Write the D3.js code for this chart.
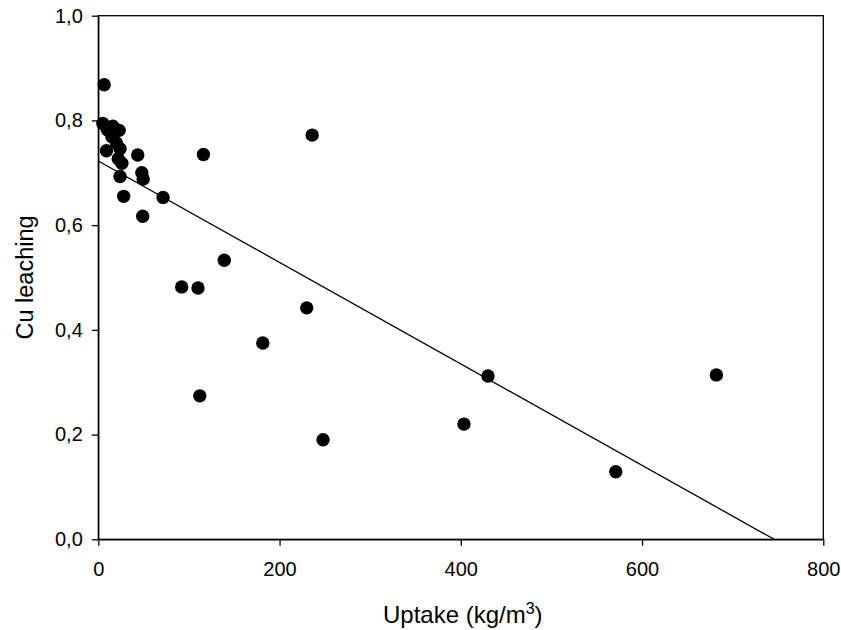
<!DOCTYPE html>
<html><head><meta charset="utf-8">
<script src="https://cdn.jsdelivr.net/npm/d3@7"></script>
<style>body{margin:0;background:#fff}svg{display:block}text{font-family:"Liberation Sans",Arial,sans-serif}</style>
</head><body>
<script>
const uptake = [6.5,5,10,16,23,15,20,9,24,22,26,24,28,43.5,48,49.5,49,71.5,116,236,92,110,139,112,181.5,230,248,403.5,430,571,682];
const cuLeaching = [0.868,0.794,0.782,0.789,0.781,0.769,0.757,0.742,0.746,0.727,0.718,0.693,0.655,0.734,0.700,0.688,0.617,0.653,0.735,0.772,0.482,0.480,0.533,0.274,0.375,0.442,0.190,0.220,0.312,0.129,0.314];
const xTicks = [0,200,400,600,800];
const yTicks = [0,0.2,0.4,0.6,0.8,1.0];
const fitIntercept = 0.7226;
const fitSlope = -0.000969;

const W=841,H=630;
const m={l:98.3,r:841-823.3,t:15.7,b:630-539.3};
const svg=d3.select("body").append("svg").attr("width",W).attr("height",H);
const x=d3.scaleLinear().domain([0,800]).range([m.l,W-m.r]);
const y=d3.scaleLinear().domain([0,1]).range([H-m.b,m.t]);
const fmt=d=>d3.format(".1f")(d).replace(".",",");

// frame
svg.append("rect").attr("x",x(0)).attr("y",y(1)).attr("width",x(800)-x(0)).attr("height",y(0)-y(1))
  .attr("fill","none").attr("stroke","#000").attr("stroke-width",1.3);

const gx=svg.append("g").attr("transform",`translate(0,${y(0)})`)
  .call(d3.axisBottom(x).tickValues(xTicks).tickSize(6.5).tickPadding(16).tickSizeOuter(0));
const gy=svg.append("g").attr("transform",`translate(${x(0)},0)`)
  .call(d3.axisLeft(y).tickValues(yTicks).tickFormat(fmt).tickSize(6.5).tickPadding(9).tickSizeOuter(0));
[gx,gy].forEach(g=>{
  g.select(".domain").attr("stroke","#000").attr("stroke-width",1.3);
  g.selectAll(".tick line").attr("stroke","#000").attr("stroke-width",1.3);
  g.selectAll(".tick text").attr("fill","#000").style("font-size","20px").style("font-family","Liberation Sans, Arial, sans-serif");
});

// regression line
const xEnd=-fitIntercept/fitSlope;
svg.append("line").attr("x1",x(0)).attr("y1",y(fitIntercept)).attr("x2",x(xEnd)).attr("y2",y(0))
  .attr("stroke","#000").attr("stroke-width",1.3);

svg.append("g").selectAll("circle").data(uptake.map((u,i)=>[u,cuLeaching[i]])).join("circle")
  .attr("cx",d=>x(d[0])).attr("cy",d=>y(d[1])).attr("r",6.7).attr("fill","#000");

// titles
const xt=svg.append("text").attr("x",(x(0)+x(800))/2+2).attr("y",622.5).attr("text-anchor","middle")
  .style("font-size","24px").attr("fill","#000");
xt.append("tspan").text("Uptake (kg/m");
xt.append("tspan").text("3").attr("dy",-9).style("font-size","16px");
xt.append("tspan").text(")").attr("dy",9);
svg.append("text").attr("transform",`translate(33,277.5) rotate(-90)`).attr("text-anchor","middle")
  .style("font-size","23.5px").attr("fill","#000").text("Cu leaching");
</script>
</body></html>
